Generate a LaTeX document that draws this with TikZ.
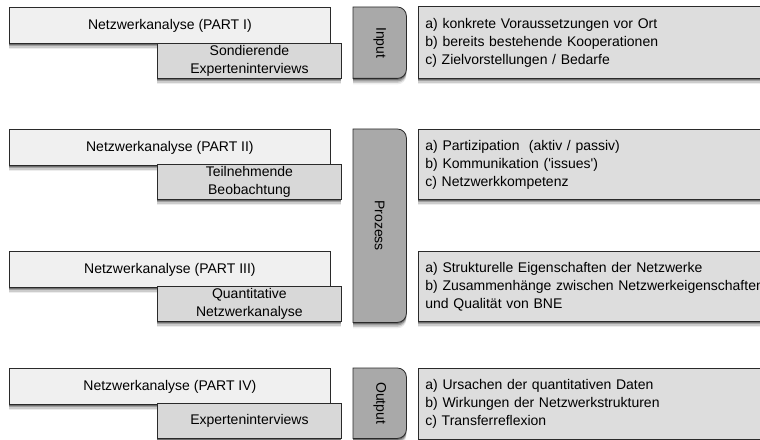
\documentclass[tikz,border=0pt]{standalone}
\usepackage{fontspec}
\setmainfont{Liberation Sans}[Ligatures=TeXOff]
\usetikzlibrary{shadows}
\definecolor{bigfill}{HTML}{F0F0F0}
\definecolor{subfill}{HTML}{D8D8D8}
\definecolor{sidefill}{HTML}{A9A9A9}
\definecolor{textfill}{HTML}{DDDDDD}
\definecolor{edgecol}{HTML}{2A2A2A}
\tikzset{
  softshadow/.style={
    general shadow={fill=black,opacity=.07,shadow yshift=-6bp},
    general shadow={fill=black,opacity=.14,shadow yshift=-4.5bp},
    general shadow={fill=black,opacity=.22,shadow yshift=-3bp},
    general shadow={fill=black,opacity=.30,shadow yshift=-1.5bp}},
  basebox/.style={draw=edgecol, line width=0.8bp, inner sep=0pt, softshadow,
    font=\fontsize{14bp}{18bp}\selectfont},
  bigbox/.style={basebox, fill=bigfill, anchor=north west,
    minimum width=321bp, minimum height=36bp},
  subbox/.style={basebox, fill=subfill, anchor=north west,
    minimum width=184bp, minimum height=35bp, align=center},
  infobox/.style={basebox, fill=textfill, anchor=north west, text width=346bp,
    inner xsep=7bp, inner ysep=0pt, minimum height=#1, align=left},
  sidearea/.style={anchor=north west, minimum width=53bp, minimum height=#1, inner sep=0pt},
  sideshape/.style={draw=edgecol, line width=0.8bp, fill=sidefill, softshadow},
  sidetext/.style={rotate=-90, inner sep=0pt, font=\fontsize{14bp}{18bp}\selectfont},
}
\newcommand\mysidepath[1]{%
  \path[sideshape] (#1.north west) -- ([xshift=-9bp]#1.north east)
    arc[start angle=90,end angle=0,radius=9bp] -- ([yshift=9bp]#1.south east)
    arc[start angle=0,end angle=-90,radius=9bp] -- (#1.south west) -- cycle;}
\begin{document}
\begin{tikzpicture}[x=1bp,y=-1bp]
\useasboundingbox (0,0) rectangle (760,440);
% Row 1
\node[bigbox] (p1) at (9,7) {Netzwerkanalyse (PART I)};
\node[subbox] (s1) at (157,43) {Sondierende\\Experteninterviews};
% Row 2
\node[bigbox] (p2) at (9,129) {Netzwerkanalyse (PART II)};
\node[subbox] (s2) at (157,164) {Teilnehmende\\Beobachtung};
% Row 3
\node[bigbox] (p3) at (9,251) {Netzwerkanalyse (PART III)};
\node[subbox] (s3) at (157,286) {Quantitative\\Netzwerkanalyse};
% Row 4
\node[bigbox] (p4) at (9,368) {Netzwerkanalyse (PART IV)};
\node[subbox] (s4) at (157,403) {Experteninterviews};
% Side boxes
\node[sidearea=71bp] (inp) at (353,7) {};
\mysidepath{inp}
\node[sidetext] (inpt) at (inp.center) {Input};
\node[sidearea=193bp] (proz) at (353,129) {};
\mysidepath{proz}
\node[sidetext] (prozt) at (proz.center) {Prozess};
\node[sidearea=70bp] (outp) at (353,368) {};
\mysidepath{outp}
\node[sidetext] (outpt) at (outp.center) {Output};
% Info boxes
\node[infobox=72bp] (i1) at (418,6) {a) konkrete Voraussetzungen vor Ort\\b) bereits bestehende Kooperationen\\c) Zielvorstellungen / Bedarfe};
\node[infobox=70bp] (i2) at (418,129) {a) Partizipation\ \ (aktiv / passiv)\\b) Kommunikation ('issues')\\c) Netzwerkkompetenz};
\node[infobox=70bp] (i3) at (418,251) {a) Strukturelle Eigenschaften der Netzwerke\\b) Zusammenhänge zwischen Netzwerkeigenschaften\\und Qualität von BNE};
\node[infobox=71bp] (i4) at (418,368) {a) Ursachen der quantitativen Daten\\b) Wirkungen der Netzwerkstrukturen\\c) Transferreflexion};
\end{tikzpicture}
\end{document}
